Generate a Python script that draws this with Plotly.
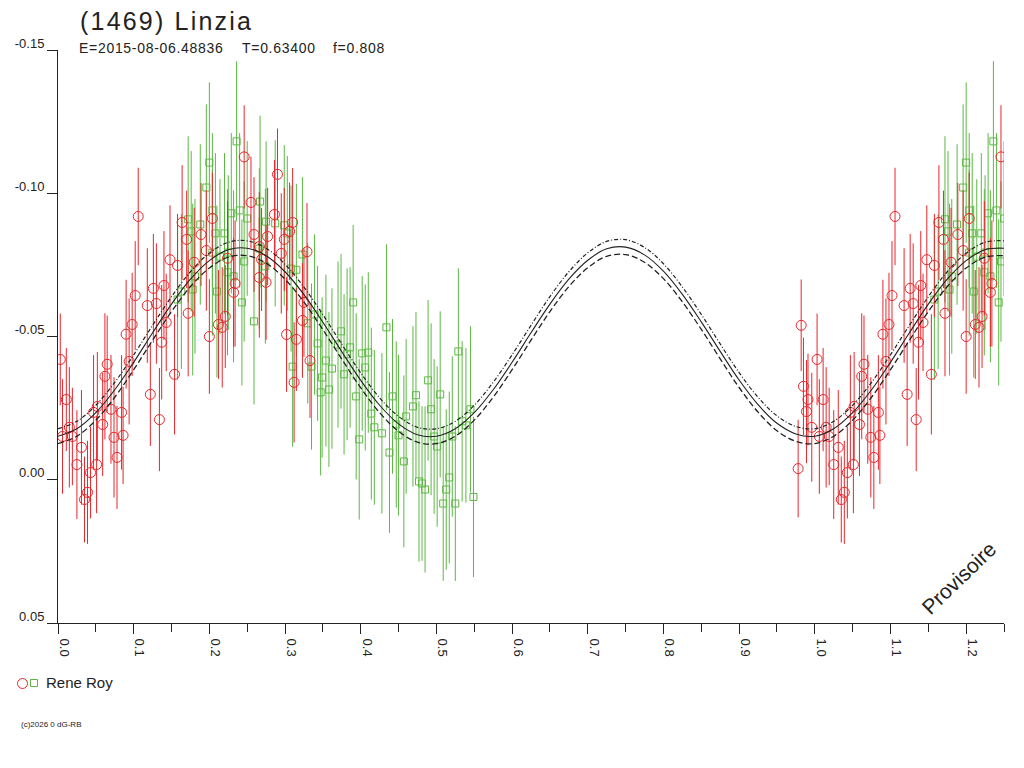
import plotly.graph_objects as go

# ---------------- data ----------------
RED_PHASE = [0.978, 0.982, 0.985, 0.989, 0.991, 0.996,
             0.003, 0.006, 0.011, 0.015, 0.019, 0.025, 0.031, 0.035, 0.039, 0.043,
             0.047, 0.051, 0.052, 0.059, 0.062, 0.065, 0.070, 0.074, 0.078, 0.084,
             0.086, 0.090, 0.094, 0.098, 0.102, 0.106, 0.118, 0.122, 0.126, 0.130,
             0.134, 0.137, 0.140, 0.143,
             0.148, 0.154, 0.158, 0.164, 0.170, 0.172, 0.180, 0.189, 0.196, 0.200,
             0.204, 0.212, 0.217, 0.221, 0.224, 0.232, 0.234, 0.246, 0.255, 0.259,
             0.266, 0.266, 0.269, 0.275, 0.277, 0.286, 0.290, 0.295, 0.299, 0.302,
             0.306, 0.310, 0.312, 0.315, 0.323, 0.325, 0.329, 0.333]
RED_MAG = [-0.0039, -0.0539, -0.0326, -0.0238, -0.0280, -0.0183,
           -0.0420, -0.0151, -0.0280, -0.0183, -0.0151, -0.0053, -0.0113, 0.0069, 0.0044, -0.0025,
           -0.0235, -0.0053, -0.0256, -0.0193, -0.0361, -0.0403, -0.0246, -0.0148, -0.0078, -0.0235,
           -0.0155, -0.0508, -0.0413, -0.0542, -0.0643, -0.0919, -0.0608, -0.0298, -0.0668, -0.0615,
           -0.0210, -0.0480, -0.0678, -0.0549,
           -0.0768, -0.0368, -0.0748, -0.0898, -0.0839, -0.0581, -0.0759, -0.0856, -0.0800, -0.0500,
           -0.0912, -0.0542, -0.0532, -0.0570, -0.0773, -0.0654, -0.0685, -0.1127, -0.0968, -0.0856,
           -0.0814, -0.0706, -0.0769, -0.0689, -0.0849, -0.0926, -0.1066, -0.0790, -0.0839, -0.0507,
           -0.0867, -0.0898, -0.0340, -0.0490, -0.0556, -0.0619, -0.0796, -0.0416]
RED_ERR = [0.017, 0.016, 0.017, 0.018, 0.016, 0.019,
           0.016, 0.020, 0.018, 0.021, 0.017, 0.019, 0.020, 0.015, 0.018, 0.016,
           0.020, 0.017, 0.019, 0.018, 0.022, 0.017, 0.019, 0.021, 0.018, 0.020,
           0.017, 0.019, 0.022, 0.018, 0.019, 0.017, 0.020, 0.018, 0.019, 0.021,
           0.018, 0.020, 0.019, 0.017,
           0.019, 0.021, 0.018, 0.020, 0.017, 0.022, 0.019, 0.018, 0.021, 0.020,
           0.016, 0.019, 0.021, 0.018, 0.020, 0.019, 0.022, 0.018, 0.016, 0.020,
           0.019, 0.021, 0.018, 0.020, 0.017, 0.019, 0.016, 0.021, 0.018, 0.020,
           0.017, 0.019, 0.021, 0.018, 0.020, 0.019, 0.017, 0.020]

GREEN_PHASE = [0.158, 0.163, 0.172, 0.176, 0.178, 0.181, 0.188, 0.196, 0.200, 0.204,
               0.204, 0.208, 0.210, 0.214, 0.220, 0.224, 0.225, 0.229, 0.232, 0.236,
               0.240, 0.243, 0.246, 0.250, 0.259, 0.266, 0.267, 0.274, 0.275, 0.287,
               0.299, 0.303, 0.308, 0.310, 0.315, 0.323, 0.330, 0.335, 0.339, 0.343,
               0.347, 0.349, 0.354, 0.358, 0.362, 0.370, 0.374, 0.378, 0.382, 0.386,
               0.390, 0.394, 0.398, 0.402, 0.406, 0.410, 0.414, 0.418, 0.428, 0.434,
               0.438, 0.442, 0.447, 0.450, 0.457, 0.460, 0.469, 0.473, 0.477, 0.481,
               0.485, 0.489, 0.493, 0.497, 0.501, 0.505, 0.509, 0.513, 0.517, 0.521,
               0.525, 0.529, 0.534, 0.539, 0.545, 0.549]
GREEN_MAG = [-0.0629, -0.0657, -0.0909, -0.0867, -0.0664, -0.0710, -0.0891, -0.1020, -0.1107, -0.0940,
             -0.0793, -0.0860, -0.0657, -0.0779, -0.0860, -0.0724, -0.0793, -0.0930, -0.0710, -0.1181,
             -0.0940, -0.0619, -0.0762, -0.0912, -0.0553, -0.0807, -0.0971, -0.0745, -0.0901, -0.0895,
             -0.0888, -0.0860, -0.0737, -0.0395, -0.0733, -0.0786, -0.0546, -0.0395, -0.0577, -0.0476,
             -0.0305, -0.0357, -0.0416, -0.0315, -0.0388, -0.0472, -0.0518, -0.0368, -0.0438, -0.0462,
             -0.0619, -0.0291, -0.0141, -0.0441, -0.0392, -0.0444, -0.0231, -0.0183, -0.0162, -0.0532,
             -0.0095, -0.0291, -0.0193, -0.0155, -0.0064, -0.0221, -0.0256, -0.0295, 0.0006, 0.0013,
             0.0034, -0.0347, -0.0246, -0.0151, -0.0116, -0.0298, 0.0083, 0.0034, -0.0008, -0.0151,
             0.0083, -0.0448, -0.0204, -0.0190, -0.0246, 0.0060]
GREEN_ERR = [0.028, 0.027, 0.029, 0.028, 0.030, 0.027, 0.028, 0.029, 0.028, 0.027,
             0.029, 0.028, 0.030, 0.027, 0.028, 0.029, 0.027, 0.028, 0.030, 0.028,
             0.027, 0.029, 0.028, 0.027, 0.029, 0.028, 0.030, 0.027, 0.028, 0.029,
             0.028, 0.027, 0.029, 0.028, 0.030, 0.027, 0.028, 0.029, 0.028, 0.027,
             0.029, 0.028, 0.030, 0.027, 0.028, 0.029, 0.027, 0.028, 0.030, 0.028,
             0.027, 0.029, 0.028, 0.027, 0.029, 0.028, 0.030, 0.027, 0.028, 0.029,
             0.028, 0.027, 0.029, 0.028, 0.030, 0.027, 0.028, 0.029, 0.028, 0.027,
             0.029, 0.028, 0.030, 0.027, 0.028, 0.029, 0.027, 0.028, 0.030, 0.028,
             0.027, 0.029, 0.028, 0.027, 0.029, 0.028]

# fitted light curve, sampled every 0.025 in phase from 0.0 to 1.25
FIT_MAG = [-0.0152, -0.0178, -0.0234, -0.0314, -0.0410, -0.0513, -0.0613, -0.0700, -0.0765, -0.0803,
           -0.0808, -0.0782, -0.0726, -0.0646, -0.0550, -0.0447, -0.0347, -0.0260, -0.0195, -0.0157,
           -0.0152, -0.0178, -0.0234, -0.0314, -0.0410, -0.0513, -0.0613, -0.0700, -0.0766, -0.0806,
           -0.0812, -0.0785, -0.0728, -0.0647, -0.0551, -0.0448, -0.0348, -0.0262, -0.0197, -0.0160,
           -0.0152, -0.0178, -0.0234, -0.0314, -0.0410, -0.0513, -0.0613, -0.0700, -0.0765, -0.0803,
           -0.0808]
FIT_STEP = 0.025
FIT_SIGMA = 0.0026

Y_TICKS = [-0.15, -0.10, -0.05, 0.00, 0.05]
Y_TICK_TEXT = ["-0.15", "-0.10", "-0.05", "0.00", "0.05"]
X_TICKS = [0.0, 0.1, 0.2, 0.3, 0.4, 0.5, 0.6, 0.7, 0.8, 0.9, 1.0, 1.1, 1.2]
X_TICK_TEXT = ["0.0", "0.1", "0.2", "0.3", "0.4", "0.5", "0.6", "0.7", "0.8", "0.9", "1.0", "1.1", "1.2"]

TITLE = "(1469) Linzia"
EPOCH = "E=2015-08-06.48836"
PERIOD = "T=0.63400"
FRAC = "f=0.808"
OBSERVER = "Rene Roy"
COPYRIGHT = "(c)2026 0 dG-RB"
STAMP = "Provisoire"

X_MAX = 1.25
RED = "#e8262c"
GREEN = "#5cb843"
INK = "#222222"
FONT = "Liberation Sans, Arial, sans-serif"

# ---------------- geometry ----------------
W, H = 1024, 768
ML, MR, MT, MB = 58, 20, 50, 145
PW, PH = W - ML - MR, H - MT - MB


def px(x):
    return (x - ML) / PW


def py(y):
    return (H - MB - y) / PH


def spaced(text, sp):
    return '<span style="letter-spacing:%spx">%s</span>' % (sp, text)


def folded(phases, mags, errs):
    xs, ys, es = [], [], []
    for p, m, e in zip(phases, mags, errs):
        for shift in (0.0, 1.0):
            q = p + shift
            if 0.0 <= q <= X_MAX:
                xs.append(q)
                ys.append(m)
                es.append(e)
    return xs, ys, es


fig = go.Figure()

gx, gy, ge = folded(GREEN_PHASE, GREEN_MAG, GREEN_ERR)
rx, ry, re_ = folded(RED_PHASE, RED_MAG, RED_ERR)

fig.add_trace(go.Scatter(
    x=gx, y=gy, mode="markers",
    marker=dict(symbol="square-open", size=7, color=GREEN, line=dict(width=1, color=GREEN)),
    error_y=dict(type="data", array=ge, visible=True, color=GREEN, thickness=1, width=0),
    name=OBSERVER))
fig.add_trace(go.Scatter(
    x=rx, y=ry, mode="markers",
    marker=dict(symbol="circle-open", size=10, color=RED, line=dict(width=1, color=RED)),
    error_y=dict(type="data", array=re_, visible=True, color=RED, thickness=1, width=0),
    name=OBSERVER))

fit_x = [round(FIT_STEP * i, 4) for i in range(len(FIT_MAG))]
fig.add_trace(go.Scatter(x=fit_x, y=[m - FIT_SIGMA for m in FIT_MAG], mode="lines",
                         line=dict(color=INK, width=1.2, dash="4px,2px,1px,2px", shape="spline")))
fig.add_trace(go.Scatter(x=fit_x, y=FIT_MAG, mode="lines",
                         line=dict(color=INK, width=1.1, shape="spline")))
fig.add_trace(go.Scatter(x=fit_x, y=[m + FIT_SIGMA for m in FIT_MAG], mode="lines",
                         line=dict(color=INK, width=1.3, dash="6px,3px", shape="spline")))

fig.update_layout(
    width=W, height=H, margin=dict(l=ML, r=MR, t=MT, b=MB, pad=0),
    plot_bgcolor="white", paper_bgcolor="white", showlegend=False,
    font=dict(family=FONT, color=INK, size=13),
)
fig.update_xaxes(
    range=[0, X_MAX], showgrid=False, zeroline=False, showline=True, linecolor=INK, linewidth=1,
    ticks="outside", ticklen=10, tickcolor=INK, tickvals=X_TICKS, ticktext=X_TICK_TEXT,
    tickangle=90, ticklabelshift=6, ticklabelstandoff=2, tickfont=dict(size=13, color=INK),
    minor=dict(dtick=0.05, tick0=0, ticks="outside", ticklen=8, tickcolor=INK, showgrid=False),
)
fig.update_yaxes(
    range=[0.05, -0.15], showgrid=False, zeroline=False, showline=True, linecolor=INK, linewidth=1,
    ticks="outside", ticklen=10, tickcolor=INK, tickvals=Y_TICKS, ticktext=Y_TICK_TEXT,
    ticklabelshift=7, ticklabelstandoff=0, tickfont=dict(size=13, color=INK),
)

ann = [
    (spaced(TITLE, 2.2), 78, 21, 25),
    (spaced(EPOCH, 0.7), 77, 48, 14),
    (spaced(PERIOD, 0.7), 240, 48, 14),
    (spaced(FRAC, 0.7), 331, 48, 14),
    (OBSERVER, 44, 683, 15),
    (COPYRIGHT, 19, 724, 8),
]
for text, ax, ay, size in ann:
    fig.add_annotation(xref="paper", yref="paper", xanchor="left", yanchor="middle",
                       showarrow=False, x=px(ax), y=py(ay), text=text,
                       font=dict(family=FONT, color=INK, size=size))
fig.add_annotation(xref="paper", yref="paper", x=px(958), y=py(578), text=STAMP, textangle=-44,
                   showarrow=False, xanchor="center", yanchor="middle",
                   font=dict(family=FONT, color=INK, size=21))

# legend symbols
fig.add_shape(type="circle", xref="paper", yref="paper",
              x0=px(17.5), x1=px(27.5), y0=py(688.5), y1=py(678.5),
              line=dict(color=RED, width=1))
fig.add_shape(type="rect", xref="paper", yref="paper",
              x0=px(30.5), x1=px(37.5), y0=py(686.5), y1=py(679.5),
              line=dict(color=GREEN, width=1))

fig.write_html("out.html", config={"displayModeBar": False},
               post_script="document.body.style.margin='0';")
